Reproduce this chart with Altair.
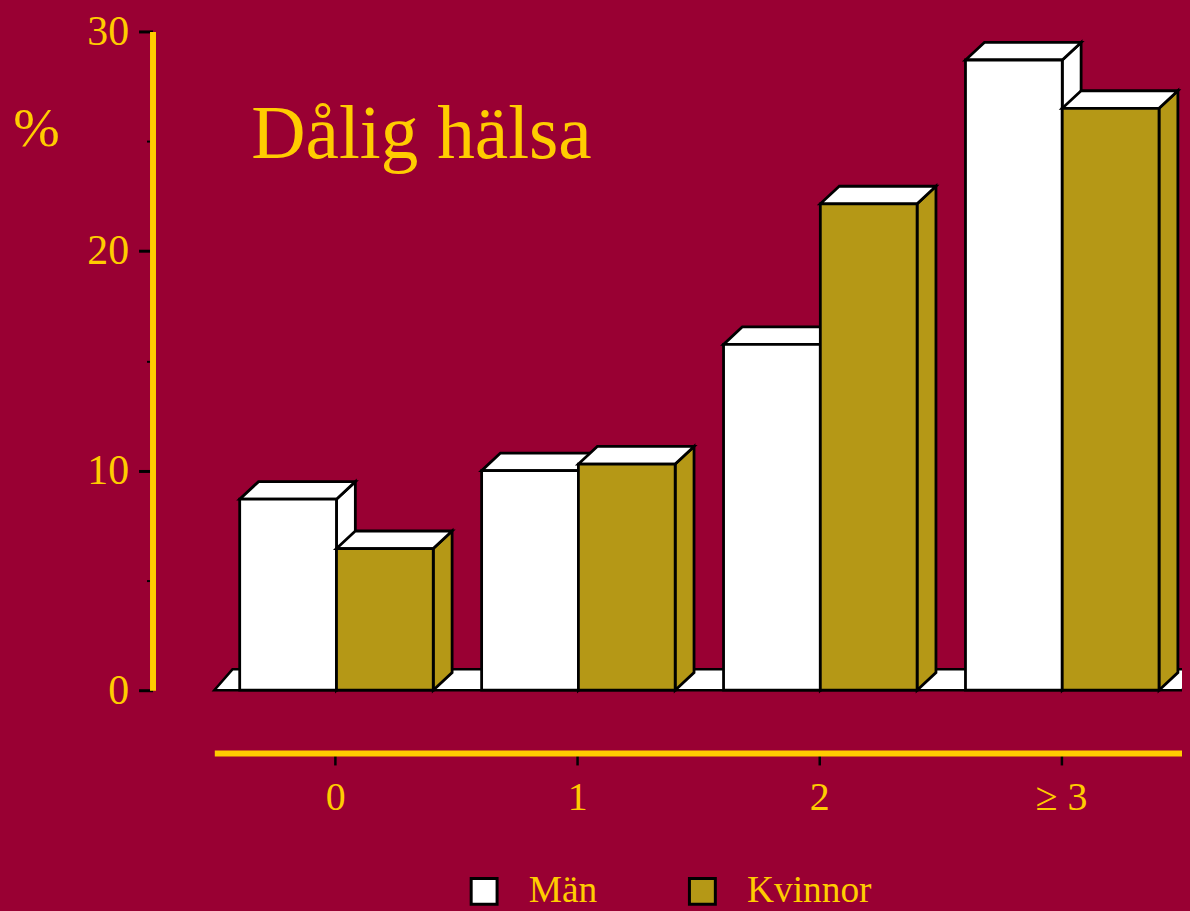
import altair as alt
import pandas as pd
import jinja2

# ---- data ----
categories = ["0", "1", "2", "≥ 3"]
man_values = [8.7, 10.0, 15.75, 28.7]
kvinnor_values = [6.45, 10.3, 22.15, 26.5]
series = ["Män", "Kvinnor"]
title_text = "Dålig hälsa"
y_label = "%"

BG = "#990033"
YEL = "#FFCC00"
OLIVE = "#B59816"
FONT = "Liberation Serif"

# geometry of the pseudo-3D bars (in data units)
BAR_W = 0.4      # width of one bar in category units
MEN_OFF = -0.395
WOMEN_OFF = 0.005
DX = 0.078       # depth offset along x (category units)
DY = 0.8         # depth offset along y (value units)
FLOOR_DX = 0.075
FLOOR_DY = 0.95

front, top, side = [], [], []
for i, cat in enumerate(categories):
    for s, vals, x0 in ((series[0], man_values, i + MEN_OFF), (series[1], kvinnor_values, i + WOMEN_OFF)):
        v = vals[i]
        x1 = x0 + BAR_W
        bid = f"{s}-{cat}"
        front.append({"x": x0, "x2": x1, "y": 0, "y2": v, "sex": s, "bid": bid})
        top.append({"y": v, "x": x0, "x2": x1, "bid": bid, "sex": s})
        top.append({"y": v + DY, "x": x0 + DX, "x2": x1 + DX, "bid": bid, "sex": s})
        side.append({"x": x1, "y": 0, "y2": v, "bid": bid, "sex": s})
        side.append({"x": x1 + DX, "y": DY, "y2": v + DY, "bid": bid, "sex": s})

front = pd.DataFrame(front)
top = pd.DataFrame(top)
side = pd.DataFrame(side)

n = len(categories)
floor = pd.DataFrame([
    {"y": 0, "x": -0.5, "x2": n - 0.5, "bid": "floor"},
    {"y": FLOOR_DY, "x": -0.5 + FLOOR_DX, "x2": n - 0.5 + FLOOR_DX, "bid": "floor"},
])

xscale = alt.Scale(domain=[-0.5, n - 0.5], nice=False, zero=False)
yscale = alt.Scale(domain=[0, 30], nice=False)

label_expr = " : ".join(
    [f"datum.value == {i} ? '{c}'" for i, c in enumerate(categories)]
) + " : ''"

x_axis = alt.Axis(
    values=list(range(n)), labelExpr=label_expr, offset=63,
    domainColor=YEL, domainWidth=6, tickColor="black", tickWidth=2.5, tickSize=12,
    labelColor=YEL, labelFont=FONT, labelFontSize=40, labelPadding=13,
    labelBaseline="top", grid=False, title=None, labelFlush=False,
)
y_axis = alt.Axis(
    values=[0, 5, 10, 15, 20, 25, 30], offset=62,
    labelExpr="datum.value % 10 == 0 ? datum.label : ''",
    domainColor=YEL, domainWidth=6, tickColor="black",
    tickWidth={"condition": {"test": "datum.value % 10 == 0", "value": 3}, "value": 2},
    tickSize={"condition": {"test": "datum.value % 10 == 0", "value": 14}, "value": 6},
    labelColor=YEL, labelFont=FONT, labelFontSize=42, labelPadding=10,
    grid=False, title=y_label, titleAngle=0, titleColor=YEL, titleFont=FONT,
    titleFontSize=56, titleFontWeight="normal", titleX=-117, titleY=114,
    titleAlign="center", titleBaseline="alphabetic", labelFlush=False,
)

colscale = alt.Scale(domain=series, range=["white", OLIVE])
legend = alt.Legend(
    orient="none", legendX=252, legendY=844, direction="horizontal",
    title=None, symbolType="square", symbolSize=676,
    symbolStrokeColor="black", symbolStrokeWidth=3,
    labelColor=YEL, labelFont=FONT, labelFontSize=37.5, labelOffset=26,
    columnPadding=85, labelLimit=300,
)
color_enc = alt.Color("sex:N", scale=colscale, legend=legend)

floor_layer = alt.Chart(floor).mark_area(
    orient="horizontal", fill="white", stroke="black", strokeWidth=2.5, clip=False
).encode(
    y=alt.Y("y:Q", scale=yscale, axis=y_axis),
    x=alt.X("x:Q", scale=xscale, axis=x_axis, stack=None),
    x2="x2:Q",
    detail="bid:N",
)

front_layer = alt.Chart(front).mark_rect(stroke="black", strokeWidth=2.8).encode(
    x=alt.X("x:Q", scale=xscale, axis=x_axis),
    x2="x2:Q",
    y=alt.Y("y:Q", scale=yscale, axis=y_axis),
    y2="y2:Q",
    color=color_enc,
)

top_layer = alt.Chart(top).mark_area(
    orient="horizontal", fill="white", stroke="black", strokeWidth=2.8
).encode(
    y=alt.Y("y:Q", scale=yscale, axis=y_axis),
    x=alt.X("x:Q", scale=xscale, axis=x_axis, stack=None),
    x2="x2:Q",
    detail="bid:N",
)

side_layer = alt.Chart(side).mark_area(
    orient="vertical", stroke="black", strokeWidth=2.8
).encode(
    x=alt.X("x:Q", scale=xscale, axis=x_axis),
    y=alt.Y("y:Q", scale=yscale, axis=y_axis, stack=None),
    y2="y2:Q",
    detail="bid:N",
    color=color_enc,
)

title_layer = alt.Chart(pd.DataFrame({"t": [title_text]})).mark_text(
    align="left", baseline="alphabetic", font=FONT, fontSize=75.5, color=YEL
).encode(
    text="t:N", x=alt.value(37), y=alt.value(127),
)

men_sel = alt.datum.sex == series[0]
women_sel = alt.datum.sex == series[1]

layers = [floor_layer]
for sel in (men_sel, women_sel):
    layers.append(side_layer.transform_filter(sel))
    layers.append(top_layer.transform_filter(sel))
    layers.append(front_layer.transform_filter(sel))
layers.append(title_layer)

chart = alt.layer(*layers).properties(
    width=971, height=661,
    autosize=alt.AutoSizeParams(type="none"),
    padding={"left": 207, "top": 22, "right": 0, "bottom": 218},
    background=BG,
).configure_view(stroke=None)

# page template: same as the standard one, with the page background in the chart colour
PAGE = """<!DOCTYPE html>
<html>
<head>
  <meta charset="utf-8">
  <style>
    html, body { background: """ + BG + """; }
    #{{ output_div }}.vega-embed { width: 100%; display: flex; }
    #{{ output_div }}.vega-embed details,
    #{{ output_div }}.vega-embed details summary { position: relative; }
  </style>
  <script type="text/javascript" src="{{ base_url }}/vega@{{ vega_version }}"></script>
  <script type="text/javascript" src="{{ base_url }}/vega-lite@{{ vegalite_version }}"></script>
  <script type="text/javascript" src="{{ base_url }}/vega-embed@{{ vegaembed_version }}"></script>
</head>
<body>
  <div id="{{ output_div }}"></div>
  <script>
    (function(vegaEmbed) {
      var spec = {{ spec }};
      var embedOpt = Object.assign({"mode": "{{ mode }}"}, {{ embed_options }});
      var el = document.getElementById('{{ output_div }}');
      vegaEmbed("#{{ output_div }}", spec, embedOpt).catch(function(err) {
        el.innerHTML = '<pre>' + err + '</pre>';
      });
    })(vegaEmbed);
  </script>
</body>
</html>
"""

try:
    chart.save("out.html", embed_options={"renderer": "svg", "actions": False},
               template=jinja2.Template(PAGE))
except Exception:
    chart.save("out.html", embed_options={"renderer": "svg", "actions": False})
